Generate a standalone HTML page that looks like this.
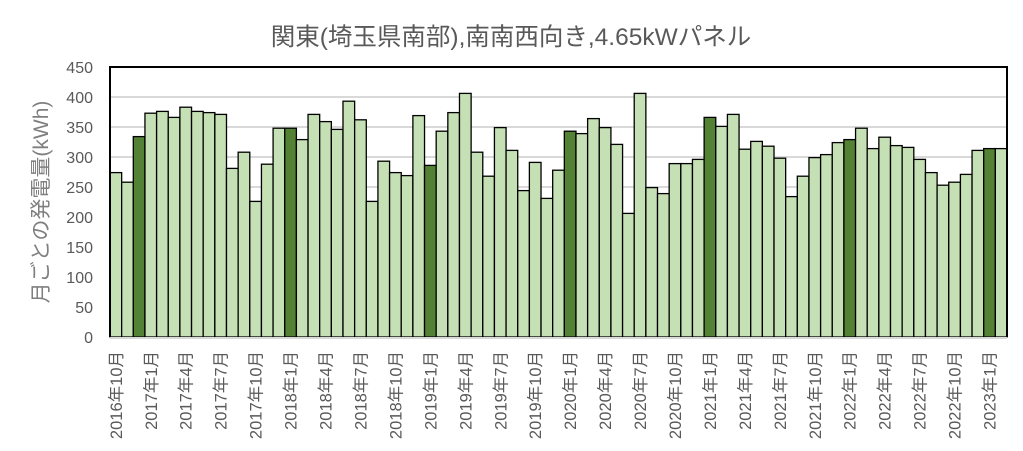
<!DOCTYPE html>
<html><head><meta charset="utf-8"><style>
html,body{margin:0;padding:0;background:#fff;}
svg{display:block;font-family:"Liberation Sans","Noto Sans CJK JP",sans-serif;}
</style></head><body>
<svg id="chart" width="1023" height="451" viewBox="0 0 1023 451">
<text x="511" y="45" text-anchor="middle" font-size="24.5" fill="#595959">関東(埼玉県南部),南南西向き,4.65kWパネル</text>
<text transform="translate(48,202) rotate(-90)" text-anchor="middle" font-size="21" fill="#7f7f7f">月ごとの発電量(kWh)</text>
<g id="grid"></g><g id="bars"></g><g id="yticks"></g><g id="xticks"></g><g id="frame"></g>
</svg>
<script>
const values=[274,258,334,373,376,366,383,376,374,371,281,308,226,288,348,348,329,371,359,346,393,362,226,293,274,269,369,286,343,374,406,308,268,349,311,244,291,231,278,343,339,364,349,321,206,406,249,239,289,289,296,366,351,371,313,326,318,298,234,268,299,304,324,329,348,314,333,319,316,296,274,253,258,271,311,314,314];
const highlight=[2,15,27,39,51,63,75];
const yTicks=[0,50,100,150,200,250,300,350,400,450];
const xLabels=["2016年10月","2017年1月","2017年4月","2017年7月","2017年10月","2018年1月","2018年4月","2018年7月","2018年10月","2019年1月","2019年4月","2019年7月","2019年10月","2020年1月","2020年4月","2020年7月","2020年10月","2021年1月","2021年4月","2021年7月","2021年10月","2022年1月","2022年4月","2022年7月","2022年10月","2023年1月"];
const NS="http://www.w3.org/2000/svg";
const L=110,R=1007,T=67,B=337,yMax=450;
const bw=(R-L)/values.length;
function y(v){return B-(v/yMax)*(B-T);}
function x(i){return L+i*bw;}
function mk(t,parent){const e=document.createElementNS(NS,t);document.getElementById(parent).appendChild(e);return e;}
yTicks.forEach(v=>{
 if(v>0&&v<yMax){const g=mk('line','grid');
 
 
 g.setAttribute('x1',L);g.setAttribute('x2',R);g.setAttribute('y1',y(v));g.setAttribute('y2',y(v));g.setAttribute('stroke','#d9d9d9');g.setAttribute('stroke-width','2');}
 const t=mk('text','yticks');
 
 
 t.setAttribute('x',93);t.setAttribute('y',y(v)+6);t.setAttribute('text-anchor','end');t.setAttribute('font-size','16');t.setAttribute('fill','#595959');t.textContent=v;
});
values.forEach((v,i)=>{
 const r=mk('rect','bars');
 
 
 r.setAttribute('x',x(i));r.setAttribute('y',y(v));r.setAttribute('width',bw);r.setAttribute('height',B-y(v));
 r.setAttribute('fill',highlight.includes(i)?'#548235':'#c5e0b4');r.setAttribute('stroke','#000');r.setAttribute('stroke-width','1.3');
});
xLabels.forEach((s,k)=>{
 const cx=x(k*3)+bw/2+6;
 const t=mk('text','xticks');
 
 
 t.setAttribute('transform','translate('+cx+',351) rotate(-90)');t.setAttribute('text-anchor','end');t.setAttribute('font-size','16.5');t.setAttribute('fill','#595959');t.textContent=s;
});
const f=mk('path','frame');


f.setAttribute('d','M'+L+' '+B+'V'+T+'H'+R+'V'+B);f.setAttribute('fill','none');f.setAttribute('stroke','#000');f.setAttribute('stroke-width','2');
const ax=mk('line','frame');


ax.setAttribute('x1',L);ax.setAttribute('x2',R);ax.setAttribute('y1',B+1);ax.setAttribute('y2',B+1);ax.setAttribute('stroke','#d9d9d9');ax.setAttribute('stroke-width','2');
</script>
</body></html>
